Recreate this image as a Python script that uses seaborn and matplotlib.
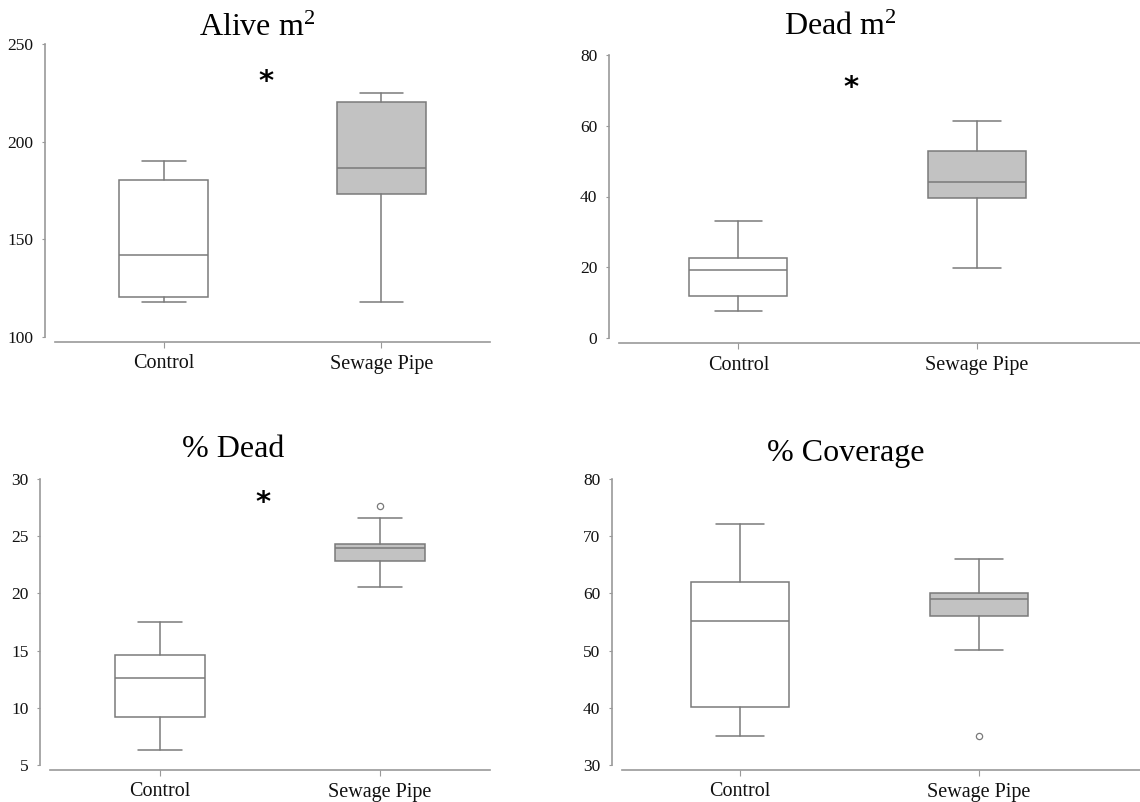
import matplotlib
matplotlib.use("Agg")
import matplotlib.pyplot as plt
import seaborn as sns

# groups
groups = ["Control", "Sewage Pipe"]

# box stats: [whisker low, q1, median, q3, whisker high]
alive_control = [117.7, 120.6, 142.1, 180.5, 190.3]
alive_sewage = [117.7, 173.1, 186.4, 220.2, 225.0]
dead_control = [7.5, 11.8, 19.2, 22.6, 33.0]
dead_sewage = [19.8, 39.7, 44.0, 52.8, 61.3]
pdead_control = [6.3, 9.2, 12.6, 14.6, 17.5]
pdead_sewage = [20.55, 22.8, 23.95, 24.3, 26.6]
cover_control = [35.0, 40.1, 55.1, 62.0, 72.1]
cover_sewage = [50.1, 56.1, 59.1, 60.0, 66.1]

# outliers
pdead_fliers = [[], [27.6]]
cover_fliers = [[], [35.0]]

titles = ["Alive m$^{2}$", "Dead m$^{2}$", "% Dead", "% Coverage"]
yticks = [[100, 150, 200, 250], [0, 20, 40, 60, 80],
          [5, 10, 15, 20, 25, 30], [30, 40, 50, 60, 70, 80]]
star_y = [230.4, 70.6, 27.86, None]

sns.set_style("ticks")
plt.rcParams['font.family'] = ['Liberation Serif', 'DejaVu Serif']
plt.rcParams['mathtext.fontset'] = 'custom'
plt.rcParams['mathtext.rm'] = 'Liberation Serif'
plt.rcParams['mathtext.it'] = 'Liberation Serif:italic'
plt.rcParams['text.color'] = '#111111'

W, H = 1140, 802
fig = plt.figure(figsize=(W / 100, H / 100), dpi=100)


def px_axes(left, top, right, bottom):
    return fig.add_axes([left / W, 1 - bottom / H, (right - left) / W, (bottom - top) / H])


# axes boxes in pixels: left, top, right, bottom
axes = [px_axes(55, 44, 490, 337), px_axes(619, 55, 1140, 338),
        px_axes(50, 479, 490, 765), px_axes(622, 479, 1140, 765)]
xlims = [(-0.5, 1.5), (-0.5, 1.682), (-0.5, 1.5), (-0.494, 1.674)]

data = [(alive_control, alive_sewage, [[], []]),
        (dead_control, dead_sewage, [[], []]),
        (pdead_control, pdead_sewage, pdead_fliers),
        (cover_control, cover_sewage, cover_fliers)]

edge = "#7a7a7a"
fills = ["white", "#c2c2c2"]

for i, ax in enumerate(axes):
    c, s, fl = data[i]
    stats = []
    for vals, f, name in zip([c, s], fl, groups):
        stats.append(dict(whislo=vals[0], q1=vals[1], med=vals[2], q3=vals[3],
                          whishi=vals[4], fliers=f, label=name))
    bp = ax.bxp(stats, positions=[0, 1], widths=0.41, patch_artist=True,
                showfliers=True,
                boxprops=dict(edgecolor=edge, linewidth=1.1),
                medianprops=dict(color=edge, linewidth=1.1),
                whiskerprops=dict(color=edge, linewidth=1.1),
                capprops=dict(color=edge, linewidth=1.1),
                capwidths=0.2,
                flierprops=dict(marker="o", markersize=4.5, markerfacecolor="white",
                                markeredgecolor=edge, markeredgewidth=0.9))
    for patch, col in zip(bp["boxes"], fills):
        patch.set_facecolor(col)

    ax.set_xlim(*xlims[i])
    ax.set_ylim(yticks[i][0], yticks[i][-1])
    ax.set_yticks(yticks[i])
    ax.set_xticks([0, 1])
    ax.set_xticklabels(groups)
    ax.tick_params(axis="y", labelsize=12.5, length=2.5, width=0.8, color="#999999",
                   labelcolor="#111111", pad=6)
    ax.tick_params(axis="x", labelsize=14.5, length=4, width=0.8, color="#999999",
                   labelcolor="#111111", pad=5)
    sns.despine(ax=ax, offset={"left": 7, "bottom": 3.6})
    for sp in ["left", "bottom"]:
        ax.spines[sp].set_color("#999999")
        ax.spines[sp].set_linewidth(1.2)
    ax.patch.set_alpha(0)
    if star_y[i] is not None:
        ax.text(0.47, star_y[i], "*", ha="center", va="center", fontsize=21,
                fontweight="bold", family="DejaVu Sans", color="black")

# titles placed by pixel position of their baselines
title_pos = [(257, 36), (840, 35), (233, 457), (846, 461)]
for t, (x, y) in zip(titles, title_pos):
    fig.text(x / W, 1 - y / H, t, ha="center", va="baseline", fontsize=23, color="black")

fig.savefig("out.png", dpi=100, facecolor="white")
